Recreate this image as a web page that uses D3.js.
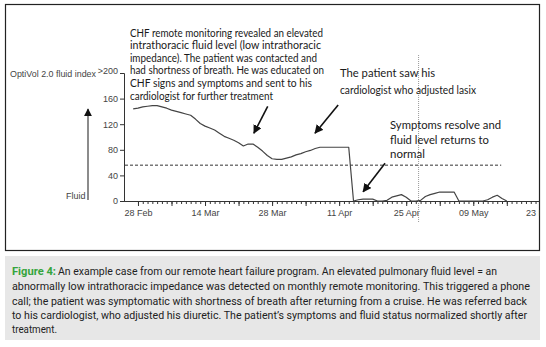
<!DOCTYPE html>
<html><head><meta charset="utf-8">
<script src="https://cdn.jsdelivr.net/npm/d3@7"></script>
<style>body{margin:0;background:#fff}svg{display:block}</style>
</head><body><svg id="c" width="546" height="347"></svg>
<script>
// ---------- data ----------
const startDate = "2013-02-27";           // first daily reading
const fluidIndex = [
  144,145,147,148,149,149,147,145,142,140,138,136,134,128,121,117,114,111,106,101,
  98,95,91,86,89,89,84,78,71,66,65,65,67,69,72,74,77,79,82,84,
  84,84,84,84,84,84,0,2,3,3,3,0,0,1,6,8,10,6,0,0,
  1,7,10,12,14,14,14,14,0,0,0,0,0,0,2,6,9,4,0
];
const thresholdValue = 56;
const thresholdEnd = "2013-05-14T20:00:00Z";
const yTickValues = [0, 40, 80, 120, 160, 200];
const yTickLabels = ["0", "40", "80", "120", "160", ">200"];
const xLabelDates = ["2013-02-28","2013-03-14","2013-03-28","2013-04-11","2013-04-25","2013-05-09","2013-05-23"];
const xLabelTexts = ["28 Feb","14 Mar","28 Mar","11 Apr","25 Apr","09 May","23 May"];
const markerDate = "2013-04-27T14:00:00Z";
// arrows: [tailDate, tailValue, tipDate, tipValue]
const arrows = [
  ["2013-03-27T02:00:00Z", 148, "2013-03-24T05:00:00Z", 106],
  ["2013-04-10T19:00:00Z", 150, "2013-04-05T23:00:00Z", 106],
  ["2013-04-20T14:00:00Z", 59,  "2013-04-16T00:00:00Z", 14.5]
];
const note1 = ["CHF remote monitoring revealed an elevated","intrathoracic fluid level (low intrathoracic","impedance). The patient was contacted and","had shortness of breath. He was educated on","CHF signs and symptoms and sent to his","cardiologist for further treatment"];
const note2 = ["The patient saw his","cardiologist who adjusted lasix"];
const note3 = ["Symptoms resolve and","fluid level returns to","normal"];
const captionLead = "Figure 4:";
const captionLines = [
  " An example case from our remote heart failure program. An elevated pulmonary fluid level = an",
  "abnormally low intrathoracic impedance was detected on monthly remote monitoring. This triggered a phone",
  "call; the patient was symptomatic with shortness of breath after returning from a cruise. He was referred back",
  "to his cardiologist, who adjusted his diuretic. The patient\u2019s symptoms and fluid status normalized shortly after",
  "treatment."
];

// ---------- layout ----------
const svg = d3.select("#c");
const day = 864e5;
const t0 = new Date(startDate + "T00:00:00Z");
const series = fluidIndex.map((v, i) => ({date: new Date(t0.getTime() + i * day), v}));

const x = d3.scaleUtc()
  .domain([new Date("2013-02-25T00:00:00Z"), new Date("2013-05-25T00:00:00Z")])
  .range([123.6, 123.6 + 89 * 4.79]);
const y = d3.scaleLinear().domain([0, 200]).range([201, 73]);

// outer frame + clip
svg.append("defs").append("clipPath").attr("id", "frame")
  .append("rect").attr("x", 5.5).attr("y", 4.5).attr("width", 534).attr("height", 246);
const defs = svg.select("defs");
defs.append("marker").attr("id", "ah").attr("viewBox", "0 0 10 10")
  .attr("refX", 9).attr("refY", 5).attr("markerWidth", 5.5).attr("markerHeight", 5.5)
  .attr("orient", "auto").append("path").attr("d", "M0,0L10,5L0,10z").attr("fill", "#111");

svg.append("rect").attr("x", 5.5).attr("y", 4.5).attr("width", 534).attr("height", 246)
  .attr("fill", "#fff").attr("stroke", "#222").attr("stroke-width", 1.2);

const g = svg.append("g").attr("clip-path", "url(#frame)");
const axisFont = "'Liberation Sans', Arial, sans-serif";
const noteFont = "Lato, 'Noto Sans', sans-serif";

// y axis
const yAxis = g.append("g").attr("transform", "translate(124,0)")
  .call(d3.axisLeft(y).tickValues(yTickValues).tickSize(4).tickPadding(2)
    .tickFormat((d, i) => yTickLabels[i]));
yAxis.select(".domain").attr("stroke", "#333");
yAxis.selectAll(".tick line").attr("stroke", "#333");
yAxis.selectAll("text").attr("font-family", axisFont).attr("font-size", 9).attr("fill", "#444");
yAxis.selectAll(".tick").filter(d => d === 200).select("text").attr("dy", "0.1em");

// x axis: daily minor ticks, weekly major ticks, fortnightly labels
const firstTick = new Date(xLabelDates[0] + "T00:00:00Z");
const endTick = new Date("2013-05-26T00:00:00Z");
const dailyTicks = d3.utcDay.range(firstTick, endTick);
const weeklyTicks = d3.utcDay.range(firstTick, endTick, 7);
const xa = g.append("g").attr("transform", "translate(0,201)");
xa.append("g").call(d3.axisBottom(x).tickValues(dailyTicks).tickSize(3).tickSizeOuter(0).tickFormat(""))
  .call(s => { s.select(".domain").attr("stroke", "#333"); s.selectAll("line").attr("stroke", "#333"); });
xa.append("g").call(d3.axisBottom(x).tickValues(weeklyTicks).tickSize(5).tickSizeOuter(0).tickFormat(""))
  .call(s => { s.select(".domain").remove(); s.selectAll("line").attr("stroke", "#333"); });
const xl = xa.append("g").call(d3.axisBottom(x)
    .tickValues(xLabelDates.map(d => new Date(d + "T00:00:00Z")))
    .tickSize(0).tickPadding(9).tickFormat((d, i) => xLabelTexts[i]));
xl.select(".domain").remove();
xl.selectAll("text").attr("font-family", axisFont).attr("font-size", 9).attr("fill", "#444");

// threshold dashed line
g.append("line").attr("x1", 125).attr("x2", x(new Date(thresholdEnd)))
  .attr("y1", y(thresholdValue)).attr("y2", y(thresholdValue))
  .attr("stroke", "#333").attr("stroke-width", 1).attr("stroke-dasharray", "3,2");

// vertical dotted marker
g.append("line").attr("x1", x(new Date(markerDate))).attr("x2", x(new Date(markerDate)))
  .attr("y1", 55).attr("y2", 222).attr("stroke", "#9a9a9a").attr("stroke-width", 1)
  .attr("stroke-dasharray", "1,1");

// fluid curve
g.append("path").datum(series)
  .attr("d", d3.line().x(d => x(d.date)).y(d => y(d.v)))
  .attr("fill", "none").attr("stroke", "#444").attr("stroke-width", 1.2)
  .attr("stroke-linejoin", "round");

// labels
g.append("text").attr("x", 10).attr("y", 77).text("OptiVol 2.0 fluid index")
  .attr("font-family", axisFont).attr("font-size", 9).attr("fill", "#444")
  .attr("textLength", 86).attr("lengthAdjust", "spacingAndGlyphs");
g.append("text").attr("x", 66).attr("y", 199).text("Fluid")
  .attr("font-family", axisFont).attr("font-size", 9).attr("fill", "#444");
g.append("line").attr("x1", 88).attr("x2", 88).attr("y1", 200).attr("y2", 109)
  .attr("stroke", "#666").attr("stroke-width", 1.5).attr("marker-end", "url(#ah)");

// annotation arrows
arrows.forEach(a => {
  g.append("line")
    .attr("x1", x(new Date(a[0]))).attr("y1", y(a[1]))
    .attr("x2", x(new Date(a[2]))).attr("y2", y(a[3]))
    .attr("stroke", "#111").attr("stroke-width", 1.6).attr("marker-end", "url(#ah)");
});

// annotation notes
function note(lines, x0, y0, lh, size, widths) {
  lines.forEach((s, i) => {
    g.append("text").attr("x", x0).attr("y", y0 + i * lh).text(s)
      .attr("font-family", noteFont).attr("font-size", size).attr("fill", "#1a1a1a")
      .attr("textLength", widths[i]).attr("lengthAdjust", "spacingAndGlyphs");
  });
}
note(note1, 130, 36.5, 12.6, 10.5, [193, 191, 187, 194, 182, 143]);
note(note2, 340, 76.5, 17.5, 11, [95, 136]);
note(note3, 390, 129, 14.5, 10.5, [111, 99, 35]);

// caption
svg.append("rect").attr("x", 5).attr("y", 256).attr("width", 535).attr("height", 84).attr("fill", "#e7e7e7");
const capFont = "Roboto, 'Noto Sans', sans-serif";
const capY = [275, 290, 304.5, 318.5, 332.5];
const capX = [58, 12, 12, 12, 12];
const capW = [439, 518, 515, 515, 45];
svg.append("text").attr("x", 12).attr("y", capY[0]).text(captionLead)
  .attr("font-family", capFont).attr("font-size", 11).attr("font-weight", "bold").attr("fill", "#35a43c")
  .attr("textLength", 44).attr("lengthAdjust", "spacingAndGlyphs");
captionLines.forEach((s, i) => {
  svg.append("text").attr("x", capX[i]).attr("y", capY[i]).text(s.trim())
    .attr("font-family", capFont).attr("font-size", 11).attr("fill", "#222")
    .attr("textLength", capW[i]).attr("lengthAdjust", "spacingAndGlyphs");
});
</script></body></html>
